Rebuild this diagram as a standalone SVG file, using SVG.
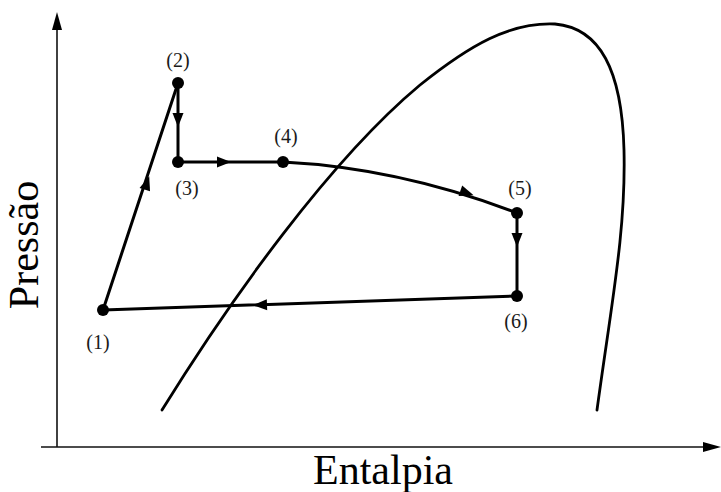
<svg xmlns="http://www.w3.org/2000/svg" width="721" height="492" viewBox="0 0 721 492">
<style>
.ax{stroke:#111;stroke-width:1.6;fill:none}
.cy{stroke:#000;stroke-width:3;fill:none;stroke-linecap:round}
.dome{stroke:#000;stroke-width:2.8;fill:none;stroke-linecap:round}
.lbl{font-family:'Liberation Serif','DejaVu Serif',serif;font-size:20px;fill:#1a1a1a;text-anchor:middle}
.axl{font-family:'Liberation Serif','DejaVu Serif',serif;font-size:42px;fill:#000;text-anchor:middle}
.dot{fill:#000}
</style>
<defs>
<path id="ah" d="M7,0 L-7,-5.5 L-7,5.5 Z" fill="#000"/>
</defs>
<g id="axes">
<line class="ax" x1="57" y1="447" x2="57" y2="26"/>
<path d="M57,12 L52,30 L62,30 Z" fill="#000"/>
<line class="ax" x1="41" y1="447" x2="706" y2="447"/>
<path d="M721,447 L703,442 L703,452 Z" fill="#000"/>
<text class="axl" x="383" y="484">Entalpia</text>
<text class="axl" transform="translate(38,245) rotate(-90)">Pressão</text>
</g>
<g id="dome">
<path class="dome" d="M162,410 C230,300 330,160 420,85 C470,45 510,22 555,24 C600,28 622,70 624,150 C626,230 612,300 597,410"/>
</g>
<g id="connectors">
<line class="cy" x1="103" y1="310" x2="178" y2="83"/>
<line class="cy" x1="178" y1="83" x2="178" y2="162"/>
<line class="cy" x1="178" y1="162" x2="283" y2="162"/>
<path class="cy" d="M283,162 Q400,168 517,213"/>
<line class="cy" x1="517" y1="213" x2="517" y2="296"/>
<line class="cy" x1="517" y1="296" x2="103" y2="310"/>
<use href="#ah" transform="translate(147,183) rotate(-71.7)"/>
<use href="#ah" transform="translate(178,120) rotate(90)"/>
<use href="#ah" transform="translate(224,162)"/>
<use href="#ah" transform="translate(467,193) rotate(19)"/>
<use href="#ah" transform="translate(517,240) rotate(90)"/>
<use href="#ah" transform="translate(260,305) rotate(178)"/>
</g>
<g id="p1"><circle class="dot" cx="103" cy="310" r="6"/><text class="lbl" x="98" y="349">(1)</text></g>
<g id="p2"><circle class="dot" cx="178" cy="83" r="6"/><text class="lbl" x="178" y="67">(2)</text></g>
<g id="p3"><circle class="dot" cx="178" cy="162" r="6"/><text class="lbl" x="187" y="195">(3)</text></g>
<g id="p4"><circle class="dot" cx="283" cy="162" r="6"/><text class="lbl" x="286" y="143">(4)</text></g>
<g id="p5"><circle class="dot" cx="517" cy="213" r="6"/><text class="lbl" x="520" y="195">(5)</text></g>
<g id="p6"><circle class="dot" cx="517" cy="296" r="6"/><text class="lbl" x="516" y="328">(6)</text></g>
</svg>
